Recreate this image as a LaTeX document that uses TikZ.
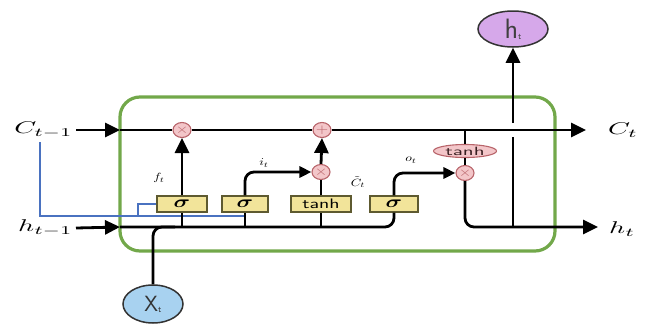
\documentclass[tikz,border=0pt]{standalone}
\usepackage{amsmath}
\usepackage{graphicx}
\usetikzlibrary{shapes.geometric,arrows.meta}
\definecolor{cellgreen}{HTML}{72A84A}
\definecolor{opfill}{HTML}{F3C6C9}
\definecolor{opdraw}{HTML}{B8646A}
\definecolor{gatefill}{HTML}{F2E49A}
\definecolor{gatedraw}{HTML}{5E5A30}
\definecolor{htfill}{HTML}{D6A8EA}
\definecolor{xtfill}{HTML}{A8D2F0}
\definecolor{bluewire}{HTML}{4A72C0}
\newcommand{\lstmBig}[1]{\scalebox{2.8}[1.7]{$#1$}}
\newcommand{\lstmSmall}[1]{\scalebox{1.35}[1.05]{$#1$}}
\newcommand{\lstmSig}{\scalebox{2.3}[1.7]{$\boldsymbol{\sigma}$}}
\tikzset{
  wire/.style={line width=2.8pt, black},
  bigarrow/.style={-{Triangle[length=15pt,width=14pt]}},
  smallarrow/.style={-{Triangle[length=12pt,width=11pt]}},
  op/.style={ellipse, draw=opdraw, fill=opfill, line width=1.1pt, minimum width=18pt, minimum height=15pt, inner sep=0pt, text=opdraw},
  gate/.style={rectangle, draw=gatedraw, fill=gatefill, line width=1.1pt, minimum height=16pt, inner sep=0pt},
  biglabel/.style={inner sep=0pt},
  smalllabel/.style={inner sep=0pt},
}
\begin{document}
\begin{tikzpicture}[x=1pt,y=-1pt]
\useasboundingbox (0,0) rectangle (646,327);
% cell
\node[draw=cellgreen, line width=3.2pt, rounded corners=20pt, minimum width=435pt, minimum height=154pt] (cell) at (337.5,174) {};
% ops
\node[op] (mul1) at (182,130) {\scalebox{1.6}[1.3]{$\times$}};
\node[op] (add) at (322,130) {\scalebox{1.6}[1.3]{$+$}};
\node[op] (mul2) at (321,172) {\scalebox{1.6}[1.3]{$\times$}};
\node[op] (mul3) at (465,173) {\scalebox{1.6}[1.3]{$\times$}};
\node[op, minimum width=63pt, minimum height=13pt, text=black!70!opdraw, font=\sffamily\fontsize{10}{10}\selectfont] (tanhE) at (465,151) {\scalebox{2.1}[1.2]{tanh}};
% gates
\node[gate, minimum width=50pt] (s1) at (182,204) {\lstmSig};
\node[gate, minimum width=46pt] (s2) at (245,204) {\lstmSig};
\node[gate, minimum width=60pt, font=\sffamily\fontsize{11}{11}\selectfont] (tn) at (321,204) {\scalebox{1.85}[1.25]{tanh}};
\node[gate, minimum width=48pt] (s4) at (394,204) {\lstmSig};
% terminals
\node[ellipse, draw=black!80, fill=htfill, line width=1.5pt, minimum width=70pt, minimum height=36pt, inner sep=0pt, font=\sffamily\fontsize{28}{28}\selectfont, text=black!75] (ht) at (513,29) {h\raisebox{-1pt}{\fontsize{9}{9}\selectfont t}};
\node[ellipse, draw=black!80, fill=xtfill, line width=1.5pt, minimum width=60pt, minimum height=38pt, inner sep=0pt, font=\sffamily\fontsize{22}{22}\selectfont, text=black!80] (xt) at (153,304) {X\raisebox{-1pt}{\fontsize{9}{9}\selectfont t}};
% labels
\node[biglabel, anchor=east] (cprev) at (73,130) {\lstmBig{C_{t-1}}};
\node[biglabel, anchor=east] (hprev) at (73,228) {\lstmBig{h_{t-1}}};
\node[biglabel, anchor=west] (cnext) at (608,130) {\lstmBig{C_t}};
\node[biglabel, anchor=west] (hnext) at (609,229) {\lstmBig{h_t}};
\node[smalllabel] (ft) at (159,178) {\lstmSmall{f_t}};
\node[smalllabel] (it) at (264,163) {\lstmSmall{i_t}};
\node[smalllabel] (ct) at (358,182) {\lstmSmall{\tilde{C}_t}};
\node[smalllabel] (ot) at (411,160) {\lstmSmall{o_t}};
% coordinates
\coordinate (cin) at (120,130);
\coordinate (cout) at (586,130);
\coordinate (hin) at (120,227);
\coordinate (hout) at (598,227);
\coordinate (hj) at (513,227);
\coordinate (gapb) at (513,137);
\coordinate (gapt) at (513,123);
\coordinate (ctap) at (465,130);
\coordinate (xj) at (175,227);
\coordinate (b1) at (182,227);
\coordinate (b2) at (245,227);
\coordinate (b3) at (321,227);
\coordinate (bl1) at (40,142);
\coordinate (bl2) at (245,216);
\coordinate (bl3) at (138,216);
% blue wires
\draw[bluewire, line width=1.8pt] (bl1) |- (bl2);
\draw[bluewire, line width=1.8pt] (bl3) |- (s1.west);
% cell state
\draw[wire, bigarrow] (cprev.east) ++(3,0) -- (cin);
\draw[wire] (cin) -- (mul1);
\draw[wire] (mul1) -- (add);
\draw[wire, bigarrow] (add) -- (cout);
% hidden input
\draw[wire, bigarrow] (hprev.east) ++(3,0) -- (hin);
\draw[wire, rounded corners=9pt] (hin) -| (s4.south);
\draw[wire, rounded corners=9pt] (xt.north) |- (xj);
% gates wiring
\draw[wire] (b1) -- (s1.south);
\draw[wire, bigarrow] (s1.north) -- (mul1.south);
\draw[wire] (b2) -- (s2.south);
\draw[wire, smallarrow, rounded corners=9pt] (s2.north) |- (mul2.west);
\draw[wire] (b3) -- (tn.south);
\draw[wire] (tn.north) -- (mul2.south);
\draw[wire, bigarrow] (mul2.north) -- (add.south);
\draw[wire, smallarrow, rounded corners=9pt] (s4.north) |- (mul3.west);
\draw[wire] (ctap) -- (tanhE.north);
\draw[wire] (tanhE.south) -- (mul3.north);
\draw[wire, bigarrow, rounded corners=9pt] (mul3.south) |- (hout);
\draw[wire] (hj) -- (gapb);
\draw[wire, bigarrow] (gapt) -- (ht.south);
\end{tikzpicture}
\end{document}
